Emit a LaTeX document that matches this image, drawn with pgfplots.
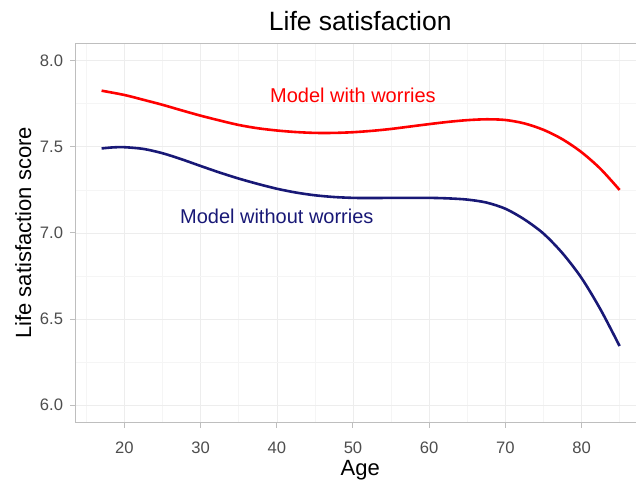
\documentclass[border=0pt]{standalone}
\usepackage{pgfplots}
\pgfplotsset{compat=1.18}
\usepackage{fontspec}
\setmainfont{Liberation Sans}

\definecolor{withw}{RGB}{255,0,0}
\definecolor{withoutw}{RGB}{24,24,118}
\definecolor{ticklab}{RGB}{77,77,77}
\definecolor{panelline}{RGB}{190,190,190}

\begin{document}
\begin{tikzpicture}
\path[use as bounding box] (0,0) rectangle (636bp,482bp);
\begin{axis}[
    at={(75.7bp,59.6bp)},
    anchor=south west,
    scale only axis,
    width=569.8bp,
    height=379.1bp,
    xmin=13.6, xmax=88.4,
    ymin=5.9, ymax=8.1,
    xtick={20,30,...,80},
    ytick={6,6.5,...,8},
    minor xtick={15,25,...,85},
    minor ytick={6.25,6.75,...,7.75},
    yticklabel style={/pgf/number format/fixed, /pgf/number format/fixed zerofill, /pgf/number format/precision=1},
    /pgf/number format/assume math mode=true,
    tick align=outside,
    xtick pos=left, ytick pos=left,
    major tick length=5.5bp,
    minor tick length=0pt,
    tick style={panelline, line width=1bp},
    axis line style={panelline, line width=1bp},
    grid=both,
    major grid style={black!7, line width=0.6bp},
    minor grid style={black!4, line width=0.5bp},
    ticklabel style={font=\fontsize{16.6bp}{19bp}\selectfont, text=ticklab},
    xticklabel style={anchor=base, inner sep=0pt, yshift=-26bp},
    yticklabel style={anchor=east, inner sep=0pt, xshift=-7bp},
    title={Life satisfaction},
    title style={at={(axis description cs:0.4994,1)}, anchor=base, yshift=7bp, inner sep=0pt, font=\fontsize{26.5bp}{30bp}\selectfont},
    xlabel={Age},
    xlabel style={at={(axis description cs:0.4994,0)}, anchor=base, yshift=-53bp, inner sep=0pt, font=\fontsize{22bp}{26bp}\selectfont},
    ylabel={Life satisfaction score},
    ylabel style={at={(axis description cs:0,0.5)}, anchor=base, rotate=0, yshift=44.7bp, inner sep=0pt, font=\fontsize{22bp}{26bp}\selectfont},
    clip=false,
]
% model with worries
\addplot[withw, line width=2.6bp, smooth, tension=0.5] coordinates {
(17,7.825) (20,7.800) (22.5,7.772) (25,7.743) (27.5,7.711) (30,7.680)
(32.5,7.652) (35,7.626) (37.5,7.607) (40,7.594) (42.5,7.585) (45,7.580)
(47.5,7.580) (50,7.584) (52.5,7.592) (55,7.603) (57.5,7.617) (60,7.631)
(62.5,7.644) (65,7.654) (67.5,7.659) (70,7.655) (72.5,7.635) (75,7.598)
(77.5,7.543) (80,7.468) (82.5,7.371) (85,7.249)
};
% model without worries
\addplot[withoutw, line width=2.6bp, smooth, tension=0.5] coordinates {
(17,7.490) (18.5,7.496) (20,7.497) (22.5,7.487) (25,7.462) (27.5,7.427)
(30,7.388) (32.5,7.350) (35,7.315) (37.5,7.284) (40,7.256) (42.5,7.234)
(45,7.218) (47.5,7.208) (50,7.203) (52.5,7.202) (55,7.203) (57.5,7.203)
(60,7.203) (62.5,7.200) (65,7.193) (67.5,7.176) (70,7.140) (72.5,7.078)
(75,6.996) (77.5,6.882) (80,6.738) (82.5,6.555) (85,6.343)
};
\node[text=withw, font=\fontsize{20bp}{24bp}\selectfont, inner sep=0pt] at (axis cs:50,7.80) {Model with worries};
\node[text=withoutw, font=\fontsize{20bp}{24bp}\selectfont, inner sep=0pt] at (axis cs:40,7.095) {Model without worries};
\end{axis}
\end{tikzpicture}
\end{document}
